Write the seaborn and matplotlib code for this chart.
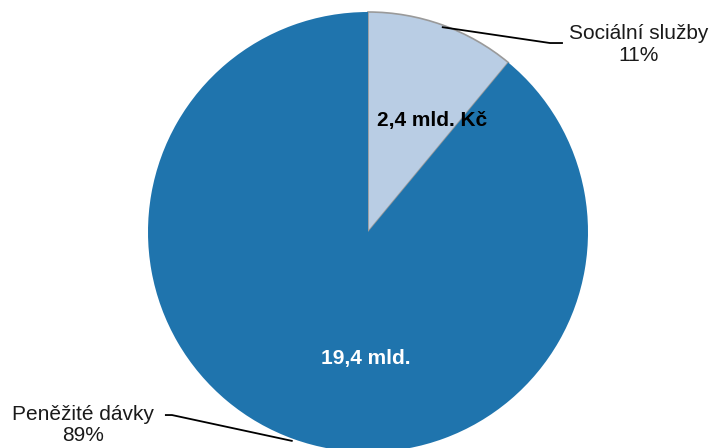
import matplotlib
matplotlib.use("Agg")
import matplotlib.pyplot as plt
import seaborn as sns
import numpy as np

# data (mld. Kč)
categories = ["Sociální služby", "Peněžité dávky"]
values = [2.4, 19.4]
inner_labels = ["2,4 mld. Kč", "19,4 mld."]
colors = ["#B9CDE4", "#1F74AD"]

sns.set_style("white")
plt.rcParams["font.family"] = ["Liberation Sans", "DejaVu Sans"]

fig = plt.figure(figsize=(7.11, 4.48), dpi=100)
ax = fig.add_axes([0, 0, 1, 1])

wedges, _ = ax.pie(values, colors=colors, startangle=90, counterclock=False,
                   radius=1.0, wedgeprops=dict(linewidth=0))
wedges[0].set_edgecolor("#9A9A9A")
wedges[0].set_linewidth(1.2)

pct = [v / sum(values) * 100 for v in values]

# inner value labels
ax.text(0.29, 0.505, inner_labels[0], ha="center", va="center",
        fontsize=15, fontweight="bold", color="black")
ax.text(-0.01, -0.575, inner_labels[1], ha="center", va="center",
        fontsize=15, fontweight="bold", color="white")

# outer labels with leader lines from wedge midpoints
mids = [np.deg2rad((w.theta1 + w.theta2) / 2) for w in wedges]
r0 = 0.99
p0 = (r0 * np.cos(mids[0]), r0 * np.sin(mids[0]))
ax.plot([p0[0], 0.827, 0.886], [p0[1], 0.859, 0.859], color="black", lw=1.3,
        solid_capstyle="butt")
ax.text(1.232, 0.852, f"{categories[0]}\n{pct[0]:.0f}%", ha="center", va="center",
        fontsize=15, linespacing=1.15, color="#1a1a1a")

r1 = 1.01
p1 = (r1 * np.cos(mids[1]), r1 * np.sin(mids[1]))
ax.plot([-0.923, -0.891, p1[0]], [-0.832, -0.832, p1[1]], color="black", lw=1.3,
        solid_capstyle="butt")
ax.text(-1.295, -0.877, f"{categories[1]}\n{pct[1]:.0f}%", ha="center", va="center",
        fontsize=15, linespacing=1.15, color="#1a1a1a")

ax.set_xlim(-368 / 220, (711 - 368) / 220)
ax.set_ylim(-(448 - 232) / 220, 232 / 220)
ax.set_aspect("equal")
ax.axis("off")

fig.savefig("out.png", dpi=100)
